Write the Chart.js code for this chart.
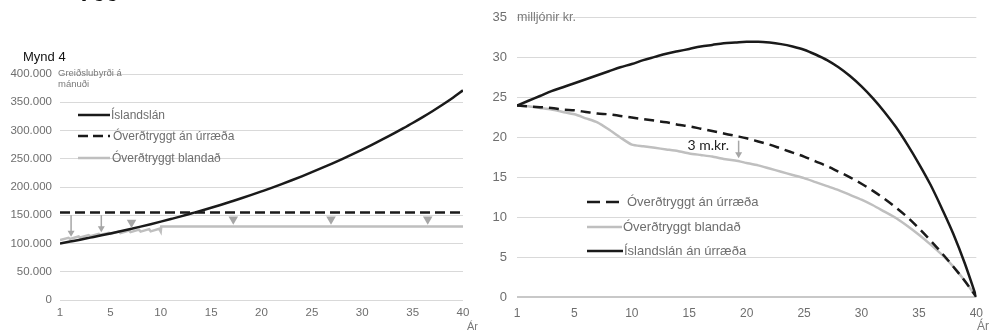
<!DOCTYPE html>
<html>
<head>
<meta charset="utf-8">
<script src="https://cdn.jsdelivr.net/npm/chart.js@4.4.1/dist/chart.umd.min.js"></script>
<style>
body{margin:0;background:#fff;font-family:"Liberation Sans",Arial,sans-serif;}
#wrap{position:relative;width:992px;height:331px;overflow:hidden;}
canvas{position:absolute;top:0;}
.t{position:absolute;white-space:nowrap;color:#6e6e6e;line-height:1.2;}
svg{position:absolute;left:0;top:0;pointer-events:none;}
</style>
</head>
<body>
<div id="wrap">
  <canvas id="left" width="492" height="331" style="left:0;width:492px;height:331px"></canvas>
  <canvas id="right" width="500" height="331" style="left:492px;width:500px;height:331px"></canvas>

  <div class="t" style="left:76px;top:-21px;font-weight:bold;font-size:24px;color:#111">Ycc</div>
  <div class="t" style="left:23px;top:49px;font-size:13px;color:#111">Mynd 4</div>
  <div class="t" style="left:58px;top:67px;font-size:9.5px;line-height:11px;color:#7a7a7a">Greiðslubyrði á<br>mánuði</div>
  <div class="t" style="left:467px;top:320px;font-size:11px;color:#7a7a7a">Ár</div>
  <div class="t" style="left:517px;top:10px;font-size:12.5px;color:#7a7a7a">milljónir kr.</div>
  <div class="t" style="left:977px;top:319px;font-size:12px;color:#7a7a7a">Ár</div>

  <!-- legend, left chart -->
  <div class="t" style="left:111px;top:108px;font-size:12px">Íslandslán</div>
  <div class="t" style="left:113px;top:129px;font-size:12px">Óverðtryggt án úrræða</div>
  <div class="t" style="left:112px;top:151px;font-size:12px">Óverðtryggt blandað</div>
  <!-- legend, right chart -->
  <div class="t" style="left:627px;top:194px;font-size:13px">Óverðtryggt án úrræða</div>
  <div class="t" style="left:623px;top:219px;font-size:13px">Óverðtryggt blandað</div>
  <div class="t" style="left:624px;top:243px;font-size:13px">Íslandslán án úrræða</div>

  <svg width="992" height="331">
    <line x1="78" y1="115" x2="110" y2="115" stroke="#1a1a1a" stroke-width="2.5"/>
    <line x1="78" y1="136" x2="110" y2="136" stroke="#1a1a1a" stroke-width="2.5" stroke-dasharray="10,5"/>
    <line x1="78" y1="158" x2="110" y2="158" stroke="#bfbfbf" stroke-width="2.5"/>
    <line x1="587" y1="202" x2="619" y2="202" stroke="#1a1a1a" stroke-width="2.5" stroke-dasharray="13,6"/>
    <line x1="587" y1="227" x2="622" y2="227" stroke="#bfbfbf" stroke-width="2.5"/>
    <line x1="587" y1="251" x2="623" y2="251" stroke="#1a1a1a" stroke-width="2.5"/>
  </svg>
</div>

<script>
// ar (x-as), sama fyrir bæði gröf
const years = [0,1,2,3,4,5,6,7,8,9,10,11,12,13,14,15,16,17,18,19,20,
               21,22,23,24,25,26,27,28,29,30,31,32,33,34,35,36,37,38,39,40];
const xTicks = [0,5,10,15,20,25,30,35,40];
const xTickLabels = ['1','5','10','15','20','25','30','35','40'];

// Mynd 4 - greidslubyrdi a manudi (kr.)
const islandslan = [100000,103400,106800,110400,114000,117800,121700,125700,129900,134200,138700,
  143300,148000,153000,158000,163300,168700,174300,180000,186000,192200,
  198500,205100,211900,218900,226200,233700,241400,249400,257700,266200,
  275000,284100,293500,303300,313300,323700,334600,346000,358000,371000];
const anUrraedaYears = [0,40];
const anUrraeda = [155000,155000];
const blandadYears = [0,0.85,1,1.85,2,2.85,3,3.85,4,4.85,5,5.85,6,6.85,7,7.85,8,8.85,9,9.85,10,10.05,40];
const blandad = [106000,110000,108000,112500,110500,115000,113000,117000,115000,119000,117000,121000,
  118500,123000,120000,124500,121000,125500,121500,126000,121000,130000,130000];
const triYears = [7.1,17.2,26.9,36.5];
const triValues = [137000,143000,143000,143000];
const arrowYears = [1.1,4.1];
const arrowFrom = [150000,150000];
const arrowTo = [112000,120000];

// seinna grafid - eftirstodvar (milljonir kr.)
const islandslanAn = [24.0,24.6,25.2,25.8,26.3,26.8,27.3,27.8,28.3,28.8,29.2,
  29.7,30.1,30.5,30.8,31.1,31.4,31.6,31.8,31.9,32.0,
  32.0,31.9,31.7,31.4,31.0,30.4,29.7,28.8,27.7,26.4,
  24.9,23.2,21.3,19.1,16.7,14.1,11.1,7.9,4.2,0];
const overdAn = [24.0,23.9,23.8,23.7,23.5,23.4,23.2,23.0,22.9,22.7,22.5,
  22.3,22.1,21.9,21.6,21.4,21.1,20.8,20.5,20.2,19.9,
  19.5,19.1,18.6,18.1,17.6,17.0,16.4,15.7,15.0,14.2,
  13.3,12.3,11.2,10.0,8.6,7.1,5.5,3.8,2.0,0];
const overdBlandad = [24.0,23.9,23.7,23.5,23.2,22.9,22.4,21.9,21.0,20.0,19.1,
  18.9,18.7,18.5,18.3,18.0,17.8,17.6,17.3,17.1,16.8,
  16.5,16.1,15.7,15.3,14.9,14.4,13.9,13.4,12.8,12.2,
  11.5,10.7,9.9,8.9,7.8,6.6,5.3,3.8,2.0,0];
const diffYear = [19.3];
const diffFrom = [19.6];
const diffTo = [17.4];
const diffLabel = '3 m.kr.';

Chart.defaults.font.family = "'Liberation Sans', Arial, sans-serif";
Chart.defaults.color = '#6e6e6e';

const pts = (xs, ys) => xs.map((x, i) => ({x: x, y: ys[i]}));
const black = '#1a1a1a', grey = '#bfbfbf', arrowGrey = '#a6a6a6';

const arrows = {
  id: 'arrows',
  afterDatasetsDraw(chart, args, o) {
    const ctx = chart.ctx, sx = chart.scales.x, sy = chart.scales.y;
    ctx.save();
    ctx.strokeStyle = arrowGrey;
    ctx.fillStyle = arrowGrey;
    ctx.lineWidth = 1.5;
    o.xs.forEach((v, i) => {
      const px = sx.getPixelForValue(v);
      const y1 = sy.getPixelForValue(o.from[i]);
      const y2 = sy.getPixelForValue(o.to[i]);
      ctx.beginPath();
      ctx.moveTo(px, y1);
      ctx.lineTo(px, y2 - 5);
      ctx.stroke();
      ctx.beginPath();
      ctx.moveTo(px - 3.5, y2 - 6);
      ctx.lineTo(px + 3.5, y2 - 6);
      ctx.lineTo(px, y2);
      ctx.closePath();
      ctx.fill();
    });
    if (o.label) {
      ctx.fillStyle = '#222';
      ctx.font = '14px Lato, sans-serif';
      ctx.textAlign = 'center';
      ctx.textBaseline = 'middle';
      ctx.fillText(o.label, sx.getPixelForValue(o.lx), sy.getPixelForValue(o.ly));
    }
    ctx.restore();
  }
};

function xAxis(h, pad, fs) {
  return {
    type: 'linear', min: 0, max: 40,
    afterFit: s => { s.height = h; },
    afterBuildTicks: s => { s.ticks = xTicks.map(v => ({value: v})); },
    grid: {display: false, drawTicks: false},
    border: {display: false},
    ticks: {
      padding: pad, maxRotation: 0, autoSkip: false,
      font: {size: fs},
      callback: (v, i) => xTickLabels[i]
    }
  };
}

new Chart(document.getElementById('left'), {
  type: 'line',
  data: {
    datasets: [
      {data: pts(triYears, triValues), showLine: false, pointStyle: 'triangle', rotation: 180,
       pointRadius: 5.5, pointBackgroundColor: arrowGrey, pointBorderWidth: 0},
      {label: 'Íslandslán', data: pts(years, islandslan), borderColor: black, borderWidth: 2.5,
       pointRadius: 0, cubicInterpolationMode: 'monotone'},
      {label: 'Óverðtryggt án úrræða', data: pts(anUrraedaYears, anUrraeda), borderColor: black,
       borderWidth: 2.5, borderDash: [10, 5], pointRadius: 0},
      {label: 'Óverðtryggt blandað', data: pts(blandadYears, blandad), borderColor: grey,
       borderWidth: 2.5, pointRadius: 0, tension: 0}
    ]
  },
  options: {
    responsive: false, animation: false,
    layout: {padding: {left: 0, right: 29, top: 74, bottom: 0}},
    plugins: {legend: {display: false}, tooltip: {enabled: false},
      arrows: {xs: arrowYears, from: arrowFrom, to: arrowTo}},
    scales: {
      x: xAxis(31, 6, 11.5),
      y: {
        min: 0, max: 400000,
        afterFit: s => { s.width = 60; },
        border: {display: false},
        grid: {color: '#d9d9d9', lineWidth: 1, drawTicks: false},
        ticks: {stepSize: 50000, padding: 8, font: {size: 11.5},
          callback: v => String(v).replace(/\B(?=(\d{3})+(?!\d))/g, '.')}
      }
    }
  },
  plugins: [arrows]
});

new Chart(document.getElementById('right'), {
  type: 'line',
  data: {
    datasets: [
      {label: 'Íslandslán án úrræða', data: pts(years, islandslanAn), borderColor: black,
       borderWidth: 2.5, pointRadius: 0, cubicInterpolationMode: 'monotone'},
      {label: 'Óverðtryggt án úrræða', data: pts(years, overdAn), borderColor: black,
       borderWidth: 2.5, borderDash: [10, 6], pointRadius: 0, cubicInterpolationMode: 'monotone'},
      {label: 'Óverðtryggt blandað', data: pts(years, overdBlandad), borderColor: grey,
       borderWidth: 2.5, pointRadius: 0, tension: 0.2}
    ]
  },
  options: {
    responsive: false, animation: false,
    layout: {padding: {left: 0, right: 12, top: 17, bottom: 0}},
    plugins: {legend: {display: false}, tooltip: {enabled: false},
      arrows: {xs: diffYear, from: diffFrom, to: diffTo, label: diffLabel, lx: 16.65, ly: 19.0}},
    scales: {
      x: xAxis(34, 9, 12),
      y: {
        min: 0, max: 35,
        afterFit: s => { s.width = 25; },
        border: {display: false},
        grid: {
          color: c => c.tick && c.tick.value === 0 ? '#c8c8c8' : '#d9d9d9',
          lineWidth: c => c.tick && c.tick.value === 0 ? 2 : 1,
          drawTicks: false
        },
        ticks: {stepSize: 5, padding: 10, font: {size: 13}}
      }
    }
  },
  plugins: [arrows]
});
</script>
</body>
</html>
